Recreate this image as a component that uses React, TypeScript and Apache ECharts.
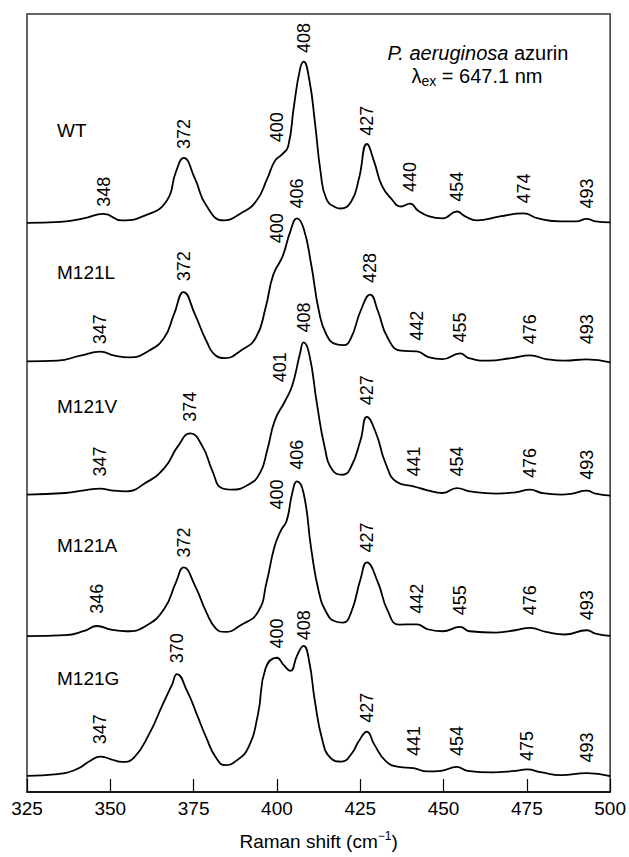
import React, { useEffect, useRef } from "react";
import * as echarts from "echarts";

// Raman shift axis (cm-1)
const SHIFT_MIN = 325;
const SHIFT_MAX = 500;
const SHIFT_STEP = 25;

const VARIANTS = ["WT", "M121L", "M121V", "M121A", "M121G"];
// vertical offset of each trace's baseline (arbitrary intensity units)
const BASELINE_OFFSETS = [573, 434, 299, 157, 16];
// where each variant name sits, relative to its baseline
const NAME_SHIFT = 334;
const NAME_LIFT = [93.5, 90, 89.5, 91, 98.5];

// [Raman shift, intensity above baseline]
const WT_SPECTRUM = [
  [325, 0.5], [335, 1.5], [342, 5], [348, 9.5], [353.5, 3], [360.5, 8], [366.8, 22], [369.7, 52],
  [372, 66], [375.4, 45], [378.8, 18], [384, 3], [389.1, 10], [393.7, 22], [397.1, 45], [399.4, 63],
  [401.7, 70], [403.4, 78], [405.1, 118], [406.9, 155], [408, 163], [409.7, 145], [411.4, 102],
  [413.1, 52], [414.8, 25], [417.7, 16], [419, 15], [422.3, 22], [424.6, 45], [427, 80], [429.2, 62],
  [431.5, 38], [434.3, 25], [437.2, 17], [440, 20], [442.3, 13], [445.7, 7], [449.7, 5], [454, 12],
  [456.5, 7], [460, 3], [466.9, 7], [474, 10], [478.4, 5], [485.2, 2], [489.8, 2], [493, 4.5],
  [495.6, 2], [500, 1],
];
const M121L_SPECTRUM = [
  [325, 0], [334.2, 0.7], [341, 5.7], [347, 9.7], [351.3, 5.7], [355.9, 4], [361.6, 10.7], [366.2, 24],
  [369.1, 47.3], [372, 69.7], [375.4, 47.3], [378.8, 20.7], [381.7, 5.7], [384.5, 3.3], [389.1, 10.7],
  [393.7, 24], [396.6, 54], [398.9, 87.3], [401.7, 105.7], [404, 130.7], [406, 144], [408, 134],
  [410.3, 97.3], [412.6, 50.7], [414.8, 27.3], [417.7, 17.3], [420, 16.3], [422.3, 24], [425.1, 50.7],
  [428, 67.3], [430.3, 50.7], [433.2, 24], [437.2, 10.7], [442, 10], [445.7, 4], [449.7, 2.3],
  [455, 8], [457.5, 3.3], [463.5, 0.7], [470.4, 3.3], [476, 6], [480.7, 2.3], [486.4, 0.7], [493, 2],
  [500, -1],
];
const M121V_SPECTRUM = [
  [325, 0.7], [336.5, 2.3], [342.2, 5], [347, 6.7], [350.2, 5], [354.8, 4], [360.5, 12.3], [366.2, 27.3],
  [370.2, 49], [374, 62.3], [377.7, 49], [380.5, 25.7], [383.4, 7.3], [386.3, 5.7], [391.4, 10.7],
  [394.9, 22.3], [397.1, 45.7], [399.4, 75.7], [402.3, 94], [404.6, 110.7], [406.9, 142.3], [408, 154],
  [409.7, 142.3], [412, 92.3], [414.3, 49], [416.6, 25.7], [419.8, 20.7], [422.3, 29], [425.1, 55.7],
  [427, 79], [429.8, 62], [432.6, 32.3], [436, 13.3], [441, 9], [445.2, 5], [449.7, 2.3], [454, 7.3],
  [457.8, 4], [465.8, 1.7], [471.5, 3], [476, 5.7], [479.5, 2.3], [485.2, 0.7], [488.7, 1.7],
  [493, 4.7], [495.6, 1.7], [500, -0.3],
];
const M121A_SPECTRUM = [
  [325, 0], [336.5, 1], [342.2, 5.3], [346, 10.3], [350.2, 6.7], [354.8, 5], [360.5, 10], [366.2, 27.7],
  [369.7, 54.3], [372, 69.3], [375.4, 51], [378.8, 24.3], [381.7, 7.7], [384.5, 4.3], [389.1, 11],
  [394.3, 24.3], [396.9, 54.3], [399.2, 89.3], [401.1, 106], [402.9, 116], [404.6, 144.3], [406, 156],
  [408, 144.3], [410.3, 87.7], [412.6, 44.3], [414.8, 24.3], [417.2, 15.3], [419.8, 13.7], [422.3, 24.3],
  [425.1, 57.7], [427, 74.3], [430.3, 54.3], [433.2, 26], [436.6, 11.7], [442, 12], [445.2, 7],
  [449.7, 5], [455, 9.3], [457.8, 5], [465.8, 3.7], [471.5, 6], [476, 8.3], [480.7, 4.3], [486.4, 1.7],
  [493, 6], [495.6, 2.7], [500, 0.3],
];
const M121G_SPECTRUM = [
  [325, 0.3], [334.2, 2], [339.9, 7], [343.9, 15.3], [347, 19.7], [350.2, 17], [353.6, 14.3], [357.1, 18.7],
  [361.6, 42], [365.7, 72], [368.5, 92], [370, 102.7], [373.1, 85.3], [376, 62], [378.8, 38.7],
  [381.7, 18.7], [384.5, 11], [388, 16], [391.4, 28.7], [394.3, 62], [396.6, 108.7], [400, 119.3],
  [402, 112], [404, 106], [406.1, 122], [408, 131.3], [409.7, 115.3], [411.4, 75.3], [413.7, 35.3],
  [416, 18.7], [419.4, 14.7], [422.3, 22], [424.6, 35.3], [427, 44.7], [429.2, 32], [432.6, 15.3],
  [436.6, 9.3], [441, 8], [445.2, 4.7], [449.2, 5.3], [454, 9.3], [457.2, 5.3], [464.6, 3.7],
  [471.5, 5.3], [475, 6.7], [479.5, 3.7], [485.2, 1], [493, 3], [500, 0],
];

// labelled band positions and the height at which each label starts
const WT_PEAKS = [348, 372, 400, 408, 427, 440, 454, 474, 493];
const WT_LIFT = [16.7, 75, 81.7, 171.7, 88.3, 31.7, 21.7, 20, 15];
const M121L_PEAKS = [347, 372, 400, 406, 428, 442, 455, 476, 493];
const M121L_LIFT = [17.3, 80.7, 119, 154, 79, 20.7, 19, 17.3, 17.3];
const M121V_PEAKS = [347, 374, 401, 408, 427, 441, 454, 476, 493];
const M121V_LIFT = [19, 74, 114, 164, 90.7, 19, 19, 17.3, 15.7];
const M121A_PEAKS = [346, 372, 400, 406, 427, 442, 455, 476, 493];
const M121A_LIFT = [22.7, 79.3, 127.7, 167.7, 84.3, 22.7, 21, 21, 16];
const M121G_PEAKS = [347, 370, 400, 408, 427, 441, 454, 475, 493];
const M121G_LIFT = [32, 113.7, 128.7, 137, 53.7, 20.3, 20.3, 15.3, 13.7];

const SPECTRA = [WT_SPECTRUM, M121L_SPECTRUM, M121V_SPECTRUM, M121A_SPECTRUM, M121G_SPECTRUM];
const PEAKS = [WT_PEAKS, M121L_PEAKS, M121V_PEAKS, M121A_PEAKS, M121G_PEAKS];
const LIFTS = [WT_LIFT, M121L_LIFT, M121V_LIFT, M121A_LIFT, M121G_LIFT];

const FONT = "'Liberation Sans', Arial, Helvetica, sans-serif";
const Y_MAX = 784;

function buildOption() {
  const series: any[] = [];

  SPECTRA.forEach((spec, i) => {
    const off = BASELINE_OFFSETS[i];
    series.push({
      type: "line",
      name: VARIANTS[i],
      data: spec.map(([x, h]) => [x, h + off]),
      showSymbol: false,
      smooth: 0.5,
      silent: true,
      lineStyle: { color: "#000", width: 1.8 },
      z: 3,
    });
    series.push({
      type: "scatter",
      name: VARIANTS[i] + " bands",
      data: PEAKS[i].map((p, k) => [p, LIFTS[i][k] + off]),
      symbolSize: 0,
      silent: true,
      itemStyle: { opacity: 1 },
      label: {
        show: true,
        position: "inside",
        rotate: 90,
        align: "left",
        verticalAlign: "middle",
        fontFamily: FONT,
        fontSize: 18,
        color: "#000",
        opacity: 1,
        formatter: (p: any) => String(p.value[0]),
      },
      z: 4,
    });
  });

  series.push({
    type: "scatter",
    name: "variants",
    data: VARIANTS.map((n, i) => [NAME_SHIFT, NAME_LIFT[i] + BASELINE_OFFSETS[i], n]),
    symbolSize: 0,
    silent: true,
    itemStyle: { opacity: 1 },
    label: {
      show: true,
      position: "inside",
      align: "left",
      verticalAlign: "middle",
      fontFamily: FONT,
      fontSize: 19,
      color: "#000",
      opacity: 1,
      formatter: (p: any) => p.value[2],
    },
    z: 4,
  });

  return {
    animation: false,
    backgroundColor: "#fff",
    grid: {
      left: 27,
      right: 18,
      top: 14,
      bottom: 59,
      show: true,
      borderColor: "#333",
      borderWidth: 1.5,
      backgroundColor: "transparent",
    },
    xAxis: {
      type: "value",
      min: SHIFT_MIN,
      max: SHIFT_MAX,
      interval: SHIFT_STEP,
      name: "Raman shift (cm{sup|\u22121})",
      nameLocation: "middle",
      nameGap: 38,
      nameTextStyle: {
        fontFamily: FONT,
        fontSize: 19,
        color: "#000",
        lineHeight: 22,
        rich: {
          sup: { fontFamily: FONT, fontSize: 12, color: "#000", verticalAlign: "top", lineHeight: 22 },
        },
      },
      axisLine: { show: true, lineStyle: { color: "#000", width: 1.5 } },
      axisTick: { show: true, inside: true, length: 13, lineStyle: { color: "#000", width: 1.2 } },
      axisLabel: {
        fontFamily: FONT,
        fontSize: 19,
        color: "#000",
        margin: 7,
        showMinLabel: true,
        showMaxLabel: true,
      },
      splitLine: { show: false },
    },
    yAxis: {
      type: "value",
      min: 0,
      max: Y_MAX,
      show: false,
      splitLine: { show: false },
    },
    graphic: [
      {
        type: "text",
        x: 478,
        y: 53,
        style: {
          text: "{i|P. aeruginosa} azurin",
          align: "center",
          verticalAlign: "middle",
          fontFamily: FONT,
          fontSize: 20,
          fill: "#000",
          rich: {
            i: { fontFamily: FONT, fontSize: 20, fontStyle: "italic", fill: "#000" },
          },
        },
      },
      {
        type: "text",
        x: 477,
        y: 76,
        style: {
          text: "\u03bb{sub|ex} = 647.1 nm",
          align: "center",
          verticalAlign: "middle",
          fontFamily: FONT,
          fontSize: 20,
          fill: "#000",
          lineHeight: 24,
          rich: {
            sub: { fontFamily: FONT, fontSize: 14, fill: "#000", verticalAlign: "bottom", lineHeight: 24 },
          },
        },
      },
    ],
    series,
  };
}

export default function App() {
  const ref = useRef<HTMLDivElement>(null);
  useEffect(() => {
    document.body.style.margin = "0";
    const chart = echarts.init(ref.current as HTMLDivElement, null, { renderer: "svg" });
    chart.setOption(buildOption() as any);
    return () => chart.dispose();
  }, []);
  return <div ref={ref} style={{ width: 629, height: 857, background: "#fff" }} />;
}
